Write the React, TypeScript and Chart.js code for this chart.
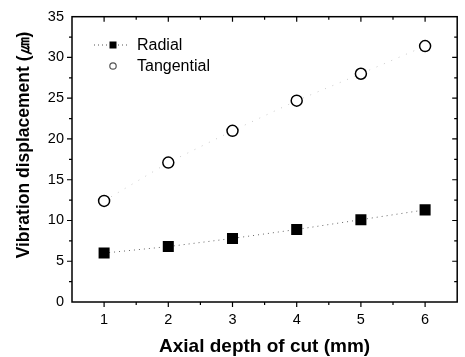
import React, { useEffect, useRef } from 'react';
import { Chart, registerables } from 'chart.js';

Chart.register(...registerables);

// Axial depth of cut (mm)
const depths = [1, 2, 3, 4, 5, 6];
// Vibration displacement (µm) per direction
const radial = [6.0, 6.8, 7.8, 8.9, 10.1, 11.3];
const tangential = [12.4, 17.1, 21.0, 24.7, 28.0, 31.4];

const seriesNames = ['Radial', 'Tangential'];
const xTickValues = [1, 2, 3, 4, 5, 6];
const yTickValues = [0, 5, 10, 15, 20, 25, 30, 35];
const xTitle = 'Axial depth of cut (mm)';
const yTitle = 'Vibration displacement (㎛)';

const FONT = '"Liberation Sans", Arial, Helvetica, sans-serif';

// Closed frame with Origin-style ticks: outward on bottom/left, inward on top/right
const framePlugin = {
  id: 'frame',
  afterDraw(chart: any) {
    const { ctx, chartArea } = chart;
    const { left, top, right, bottom } = chartArea;
    const xs = chart.scales.x;
    const ys = chart.scales.y;
    ctx.save();
    ctx.strokeStyle = '#000';
    ctx.lineWidth = 1.5;
    ctx.strokeRect(left, top, right - left, bottom - top);
    ctx.lineWidth = 1.2;
    const major = 5;
    const minor = 3;
    ctx.beginPath();
    for (let v = 1; v <= 6.01; v += 0.5) {
      const len = Number.isInteger(v) ? major : minor;
      const px = xs.getPixelForValue(v);
      ctx.moveTo(px, bottom);
      ctx.lineTo(px, bottom + len);
      ctx.moveTo(px, top);
      ctx.lineTo(px, top + len);
    }
    for (let v = 2.5; v <= 32.6; v += 2.5) {
      const len = v % 5 === 0 ? major : minor;
      const py = ys.getPixelForValue(v);
      ctx.moveTo(left, py);
      ctx.lineTo(left - len, py);
      ctx.moveTo(right, py);
      ctx.lineTo(right - len, py);
    }
    ctx.stroke();
    ctx.restore();
  },
};

// Axis titles
const titlePlugin = {
  id: 'axisTitles',
  afterDraw(chart: any) {
    const { ctx, chartArea } = chart;
    ctx.save();
    ctx.fillStyle = '#000';
    ctx.textAlign = 'center';
    ctx.textBaseline = 'alphabetic';
    ctx.font = `bold 19px ${FONT}`;
    ctx.fillText(xTitle, (chartArea.left + chartArea.right) / 2, 352);
    ctx.translate(29, 145);
    ctx.rotate(-Math.PI / 2);
    ctx.font = `bold 17.5px ${FONT}`;
    ctx.fillText(yTitle, 0, 0);
    ctx.restore();
  },
};

// Legend in the upper-left corner of the plot
const legendPlugin = {
  id: 'cornerLegend',
  afterDraw(chart: any) {
    const { ctx } = chart;
    const symX = 113;
    const textX = 137;
    const rows = [45, 66];
    ctx.save();
    // Radial: dotted line with a filled square
    ctx.strokeStyle = '#555';
    ctx.lineWidth = 1;
    ctx.setLineDash([1, 3]);
    ctx.beginPath();
    ctx.moveTo(94, rows[0]);
    ctx.lineTo(129, rows[0]);
    ctx.stroke();
    ctx.setLineDash([]);
    ctx.fillStyle = '#000';
    ctx.fillRect(symX - 3.5, rows[0] - 3.5, 7, 7);
    // Tangential: open circle
    ctx.lineWidth = 1.2;
    ctx.beginPath();
    ctx.arc(symX, rows[1], 3.2, 0, Math.PI * 2);
    ctx.stroke();
    ctx.font = `16px ${FONT}`;
    ctx.textBaseline = 'middle';
    ctx.fillStyle = '#000';
    ctx.fillText(seriesNames[0], textX, rows[0] + 1);
    ctx.fillText(seriesNames[1], textX, rows[1] + 1);
    ctx.restore();
  },
};

export default function App() {
  const canvasRef = useRef<HTMLCanvasElement | null>(null);

  useEffect(() => {
    const canvas = canvasRef.current;
    if (!canvas) return;
    const chart = new Chart(canvas, {
      type: 'scatter',
      data: {
        datasets: [
          {
            label: seriesNames[0],
            data: depths.map((d, i) => ({ x: d, y: radial[i] })),
            showLine: true,
            borderColor: '#666',
            borderWidth: 1,
            borderDash: [1, 4],
            pointStyle: 'rect',
            pointRadius: 7.8,
            pointBackgroundColor: '#000',
            pointBorderColor: '#000',
            pointBorderWidth: 0,
          },
          {
            label: seriesNames[1],
            data: depths.map((d, i) => ({ x: d, y: tangential[i] })),
            showLine: true,
            borderColor: '#c8c8c8',
            borderWidth: 1,
            borderDash: [1, 7],
            pointStyle: 'circle',
            pointRadius: 5.5,
            pointBackgroundColor: '#fff',
            pointBorderColor: '#000',
            pointBorderWidth: 1.5,
          },
        ],
      },
      options: {
        animation: false,
        responsive: false,
        maintainAspectRatio: false,
        layout: { padding: { left: 0, top: 16, right: 5, bottom: 0 } },
        plugins: { legend: { display: false }, tooltip: { enabled: false } },
        scales: {
          x: {
            type: 'linear',
            min: 0.5,
            max: 6.5,
            grid: { display: false, drawTicks: false },
            border: { display: false },
            afterBuildTicks: (scale: any) => {
              scale.ticks = xTickValues.map((v) => ({ value: v }));
            },
            afterFit: (scale: any) => {
              scale.height = 55;
            },
            ticks: {
              padding: 9,
              color: '#000',
              font: { family: FONT, size: 14.5 },
            },
          },
          y: {
            type: 'linear',
            min: 0,
            max: 35,
            grid: { display: false, drawTicks: false },
            border: { display: false },
            afterBuildTicks: (scale: any) => {
              scale.ticks = yTickValues.map((v) => ({ value: v }));
            },
            afterFit: (scale: any) => {
              scale.width = 72;
            },
            ticks: {
              padding: 8,
              color: '#000',
              font: { family: FONT, size: 14.5 },
            },
          },
        },
      },
      plugins: [framePlugin, titlePlugin, legendPlugin],
    });
    return () => chart.destroy();
  }, []);

  return (
    <div style={{ position: 'fixed', left: 0, top: 0, width: 465, height: 357, background: '#fff' }}>
      <canvas ref={canvasRef} width={465} height={357} style={{ display: 'block' }} />
    </div>
  );
}
